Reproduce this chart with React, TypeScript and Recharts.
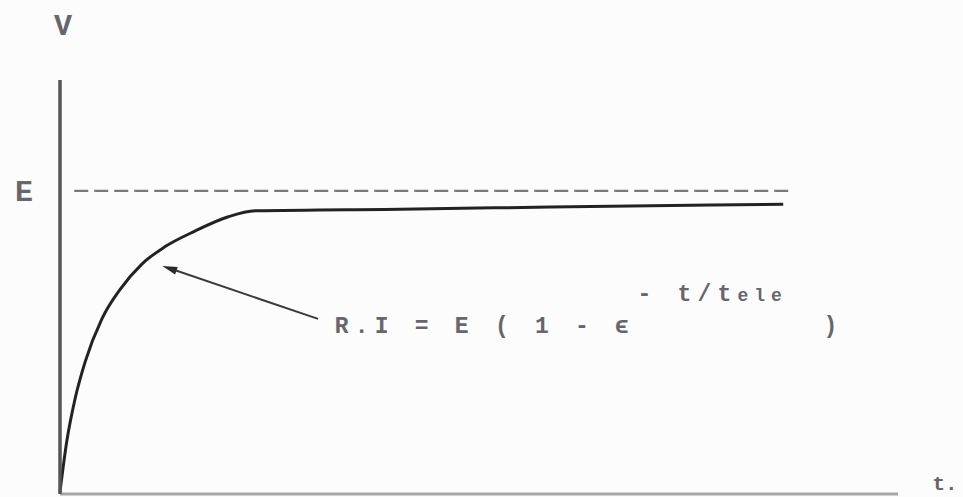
import {
  ComposedChart,
  Line,
  XAxis,
  YAxis,
  ReferenceLine,
  ReferenceDot,
  Label,
} from "recharts"

// charging curve of the capacitor voltage (t in %, V in %)
const timeValues = [0, 0.8, 1.8, 3, 5, 7.2, 9.8, 12.5, 16.1, 20, 23.3, 40.6, 58.5, 86.3]
const voltageValues = [0.5, 12.6, 23, 31.9, 42.3, 49.5, 55.6, 59.7, 63.5, 66.9, 68.4, 68.8, 69.3, 70]

// asymptote E and the span of its dashed line
const supplyLevel = 73.2
const asymptoteSpan = [1.7, 87.5]

// arrow from the formula to the curve: tail, then tip
const arrowTail = { x: 30.8, y: 42.3 }
const arrowTip = { x: 12.2, y: 55.1 }

// where the formula pieces sit
const formulaMain = { x: 32.8, y: 38.9, text: "R.I = E ( 1 - ϵ" }
const formulaExp = { x: 68.9, y: 46.6, text: "- t/t", sub: "ele" }
const formulaClose = { x: 91.1, y: 38.9, text: ")" }

const data = timeValues.map((t, i) => ({ t, v: voltageValues[i] }))

const textColor = "#66666c"
const mono = "'Liberation Mono', 'DejaVu Sans Mono', monospace"

function Arrow(props: any) {
  const { x1, y1, x2, y2 } = props
  const dx = x2 - x1
  const dy = y2 - y1
  const len = Math.hypot(dx, dy)
  const ux = dx / len
  const uy = dy / len
  const head = 15
  const half = 4
  const bx = x2 - ux * head
  const by = y2 - uy * head
  const pts = `${x2},${y2} ${bx - uy * half},${by + ux * half} ${bx + uy * half},${by - ux * half}`
  return (
    <g>
      <line x1={x1} y1={y1} x2={bx + ux * 2} y2={by + uy * 2} stroke="#3a3a3a" strokeWidth={2} />
      <polygon points={pts} fill="#2a2a2a" />
    </g>
  )
}

export default function App() {
  return (
    <div style={{ position: "absolute", left: 0, top: 0, width: 963, height: 497, background: "#fcfcfc" }}>
      <ComposedChart
        width={963}
        height={497}
        data={data}
        margin={{ top: 80, right: 65, bottom: 2, left: 0 }}
      >
        <XAxis
          dataKey="t"
          type="number"
          domain={[0, 100]}
          height={1}
          tick={false}
          tickLine={false}
          axisLine={{ stroke: "#a5a5a5", strokeWidth: 3 }}
        >
          <Label
            content={(p: any) => (
              <text
                x={p.viewBox.x + p.viewBox.width + 47}
                y={490}
                textAnchor="middle"
                fontFamily={mono}
                fontWeight="bold"
                fontSize={21}
                fill={textColor}
              >
                t.
              </text>
            )}
          />
        </XAxis>
        <YAxis
          type="number"
          domain={[0, 100]}
          width={60}
          ticks={[supplyLevel]}
          tickLine={false}
          tickSize={0}
          axisLine={{ stroke: "#555", strokeWidth: 3.5 }}
          tick={(p: any) => (
            <text
              x={p.x - 25}
              y={p.y + 10}
              textAnchor="end"
              fontFamily={mono}
              fontWeight="bold"
              fontSize={30}
              fill={textColor}
            >
              E
            </text>
          )}
        >
          <Label
            content={(p: any) => (
              <text
                x={p.viewBox.x + p.viewBox.width + 3}
                y={p.viewBox.y - 45}
                textAnchor="middle"
                fontFamily={mono}
                fontWeight="bold"
                fontSize={30}
                fill={textColor}
              >
                V
              </text>
            )}
          />
        </YAxis>

        <ReferenceLine
          segment={[
            { x: asymptoteSpan[0], y: supplyLevel },
            { x: asymptoteSpan[1], y: supplyLevel },
          ]}
          stroke="#7a7a7a"
          strokeWidth={2.2}
          strokeDasharray="14 6"
        />

        <Line
          type="monotone"
          dataKey="v"
          stroke="#222"
          strokeWidth={3}
          dot={false}
          activeDot={false}
          isAnimationActive={false}
        />

        <ReferenceLine segment={[arrowTail, arrowTip]} shape={Arrow} />

        <ReferenceDot
          x={formulaMain.x}
          y={formulaMain.y}
          r={0}
          shape={(p: any) => (
            <text x={p.cx} y={p.cy} fontFamily={mono} fontWeight="bold" fontSize={23} letterSpacing={6.2} fill={textColor}>
              {formulaMain.text}
            </text>
          )}
        />
        <ReferenceDot
          x={formulaExp.x}
          y={formulaExp.y}
          r={0}
          shape={(p: any) => (
            <text x={p.cx} y={p.cy} fontFamily={mono} fontWeight="bold" fontSize={23} letterSpacing={6.2} fill={textColor}>
              {formulaExp.text}
              <tspan fontSize={18} letterSpacing={6}>
                {formulaExp.sub}
              </tspan>
            </text>
          )}
        />
        <ReferenceDot
          x={formulaClose.x}
          y={formulaClose.y}
          r={0}
          shape={(p: any) => (
            <text x={p.cx} y={p.cy} fontFamily={mono} fontWeight="bold" fontSize={23} fill={textColor}>
              {formulaClose.text}
            </text>
          )}
        />
      </ComposedChart>
    </div>
  )
}
